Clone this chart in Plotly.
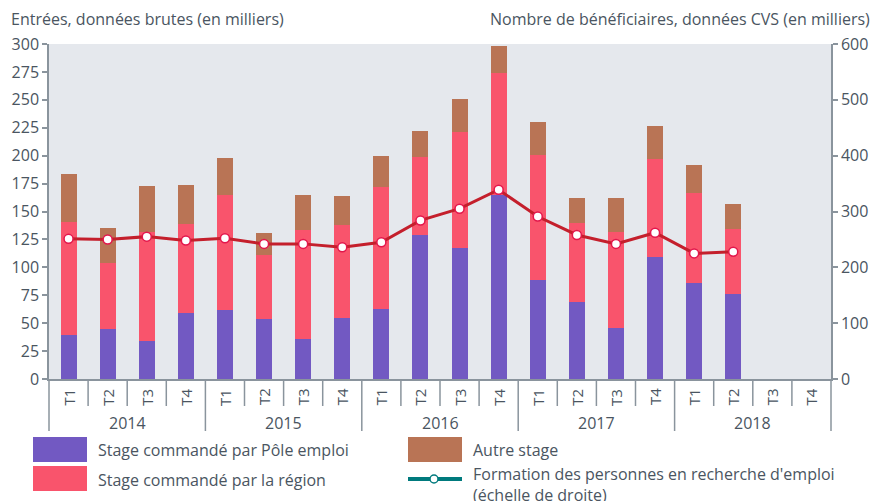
import plotly.graph_objects as go

years = ["2014", "2015", "2016", "2017", "2018"]
quarters = ["T1", "T2", "T3", "T4"]

pole_emploi = [39, 45, 34, 59, 62, 54, 36, 55, 63, 129, 117, 165, 89, 69, 46, 109, 86, 76, None, None]
region = [102, 59, 98, 80, 103, 57, 97, 83, 109, 70, 104, 109, 112, 71, 86, 88, 81, 58, None, None]
autre = [43, 31, 41, 35, 33, 20, 32, 26, 28, 23, 30, 24, 29, 22, 30, 30, 25, 23, None, None]
beneficiaires = [251, 250, 255, 248, 252, 242, 242, 236, 245, 284, 305, 339, 291, 258, 242, 262, 225, 228, None, None]

left_ticks = [0, 25, 50, 75, 100, 125, 150, 175, 200, 225, 250, 275, 300]
right_ticks = [0, 100, 200, 300, 400, 500, 600]

C_POLE = "#7259c2"
C_REG = "#f9546c"
C_AUTRE = "#b97455"
C_LINE = "#c41f2c"
C_MARK = "#e3174c"
C_LEG_LINE = "#007a7d"
TXT = "#4a5561"
AX = "#8a949d"
BG = "#e5e8ed"
FONT = "Open Sans"

W, H = 885, 501
OFF = 8  # page body margin
L, R, T, B = 49, 831, 44, 379  # plot area in screen pixels


def px(X):
    return (X - L) / (R - L)


def py(Y):
    return (B - Y) / (B - T)


n = len(quarters) * len(years)
xs = list(range(n))
qlabels = [q for y in years for q in quarters]

fig = go.Figure()
for name, vals, col in [("Stage commandé par Pôle emploi", pole_emploi, C_POLE),
                        ("Stage commandé par la région", region, C_REG),
                        ("Autre stage", autre, C_AUTRE)]:
    fig.add_trace(go.Bar(x=xs, y=vals, name=name, marker=dict(color=col, line=dict(width=0)),
                         width=0.41, showlegend=False))

fig.add_trace(go.Scatter(x=xs, y=beneficiaires, yaxis="y2", mode="lines+markers",
                         name="Formation des personnes en recherche d'emploi",
                         line=dict(color=C_LINE, width=3),
                         marker=dict(symbol="circle", size=9, color="white",
                                     line=dict(color=C_MARK, width=1.5)),
                         showlegend=False))

shapes = []
annotations = []
for i in range(n + 1):
    is_year = (i % len(quarters) == 0)
    Yend = 431 if is_year else 406
    shapes.append(dict(type="line", xref="paper", yref="paper", x0=i / n, x1=i / n,
                       y0=0, y1=py(Yend), line=dict(color=AX, width=1.5)))
for i, q in enumerate(qlabels):
    annotations.append(dict(x=i, y=py(397), xref="x", yref="paper", text=q, textangle=-90,
                            showarrow=False, xanchor="center", yanchor="middle",
                            font=dict(size=15, color=TXT, family=FONT)))
for j, yr in enumerate(years):
    annotations.append(dict(x=j * 4 + 1.5, y=py(423), xref="x", yref="paper", text=yr,
                            showarrow=False, xanchor="center", yanchor="middle",
                            font=dict(size=16, color=TXT, family=FONT)))

annotations.append(dict(x=px(8.5), y=py(19), xref="paper", yref="paper",
                        text="Entrées, données brutes (en milliers)", showarrow=False,
                        xanchor="left", yanchor="middle", font=dict(size=16, color=TXT, family=FONT)))
annotations.append(dict(x=px(872), y=py(19), xref="paper", yref="paper",
                        text="Nombre de bénéficiaires, données CVS (en milliers)", showarrow=False,
                        xanchor="right", yanchor="middle", font=dict(size=16, color=TXT, family=FONT)))

leg = [
    (33, 437, C_POLE, "Stage commandé par Pôle emploi", 450),
    (33, 466, C_REG, "Stage commandé par la région", 480),
    (408, 437, C_AUTRE, "Autre stage", 450),
]
for X0, Y0, col, txt, Yt in leg:
    shapes.append(dict(type="rect", xref="paper", yref="paper", x0=px(X0), x1=px(X0 + 54),
                       y0=py(Y0 + 25), y1=py(Y0), fillcolor=col, line=dict(width=0)))
    annotations.append(dict(x=px(X0 + 63), y=py(Yt), xref="paper", yref="paper", text=txt,
                            showarrow=False, xanchor="left", yanchor="middle",
                            font=dict(size=16, color=TXT, family=FONT)))
shapes.append(dict(type="line", xref="paper", yref="paper", x0=px(408), x1=px(462),
                   y0=py(479), y1=py(479), line=dict(color=C_LEG_LINE, width=4)))
shapes.append(dict(type="circle", xref="paper", yref="paper", x0=px(430), x1=px(438),
                   y0=py(483), y1=py(475), fillcolor="white", line=dict(color=C_LEG_LINE, width=1.5)))
annotations.append(dict(x=px(471), y=py(484.5), xref="paper", yref="paper",
                        text="Formation des personnes en recherche d'emploi<br>(échelle de droite)",
                        showarrow=False, xanchor="left", yanchor="middle", align="left",
                        font=dict(size=16, color=TXT, family=FONT)))

fig.update_layout(
    width=W, height=H,
    margin=dict(l=L - OFF, r=W - (R - OFF), t=T - OFF, b=H - (B - OFF), pad=0, autoexpand=False),
    barmode="stack",
    paper_bgcolor="white",
    plot_bgcolor=BG,
    showlegend=False,
    font=dict(family=FONT, color=TXT, size=16),
    xaxis=dict(range=[-0.5, n - 0.5], showticklabels=False, ticks="", showgrid=False,
               zeroline=False, showline=True, linecolor=AX, linewidth=1.5, fixedrange=True,
               automargin=False),
    yaxis=dict(range=[0, 300], tickvals=left_ticks, ticks="outside", ticklen=5, tickcolor=AX,
               tickwidth=1.5, showline=True, linecolor=AX, linewidth=1.5, showgrid=False,
               zeroline=False, automargin=False, tickfont=dict(size=16, color=TXT, family=FONT)),
    yaxis2=dict(range=[0, 600], tickvals=right_ticks, overlaying="y", side="right",
                ticks="outside", ticklen=5, tickcolor=AX, tickwidth=1.5, showline=True,
                linecolor=AX, linewidth=1.5, showgrid=False, zeroline=False, automargin=False,
                tickfont=dict(size=16, color=TXT, family=FONT)),
    shapes=shapes,
    annotations=annotations,
)

fig.write_html("out.html")
